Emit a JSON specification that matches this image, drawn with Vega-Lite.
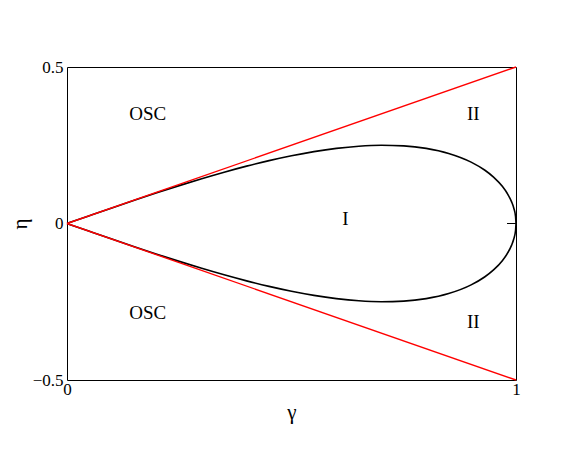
{
  "$schema": "https://vega.github.io/schema/vega-lite/v6.json",
  "width": 449,
  "height": 313,
  "autosize": {"type": "none"},
  "padding": {"left": 67, "top": 67, "right": 65, "bottom": 69},
  "background": "white",
  "config": {
    "view": {"stroke": "black", "strokeWidth": 1},
    "font": "Times New Roman, Liberation Serif, serif",
    "axis": {"grid": false, "domain": false, "labelColor": "black", "titleColor": "black", "titleFontWeight": "normal"}
  },
  "datasets": {
    "curve": [
      {"g": 0, "e": 0, "s": "up"}, {"g": 0.05, "e": 0.02497, "s": "up"}, {"g": 0.1, "e": 0.04975, "s": "up"}, {"g": 0.15, "e": 0.07415, "s": "up"}, {"g": 0.2, "e": 0.09798, "s": "up"}, {"g": 0.25, "e": 0.12103, "s": "up"}, {"g": 0.3, "e": 0.14309, "s": "up"}, {"g": 0.35, "e": 0.16393, "s": "up"}, {"g": 0.4, "e": 0.1833, "s": "up"}, {"g": 0.45, "e": 0.20093, "s": "up"}, {"g": 0.5, "e": 0.21651, "s": "up"}, {"g": 0.55, "e": 0.22967, "s": "up"}, {"g": 0.6, "e": 0.24, "s": "up"}, {"g": 0.65, "e": 0.24698, "s": "up"}, {"g": 0.7, "e": 0.24995, "s": "up"}, {"g": 0.75, "e": 0.24804, "s": "up"}, {"g": 0.8, "e": 0.24, "s": "up"}, {"g": 0.85, "e": 0.22388, "s": "up"}, {"g": 0.9, "e": 0.19615, "s": "up"}, {"g": 0.93, "e": 0.17092, "s": "up"}, {"g": 0.95, "e": 0.14832, "s": "up"}, {"g": 0.97, "e": 0.1179, "s": "up"}, {"g": 0.98, "e": 0.09751, "s": "up"}, {"g": 0.99, "e": 0.06983, "s": "up"}, {"g": 0.995, "e": 0.04969, "s": "up"}, {"g": 0.999, "e": 0.02233, "s": "up"}, {"g": 1, "e": 0, "s": "up"},
      {"g": 0, "e": 0, "s": "lo"}, {"g": 0.05, "e": -0.02497, "s": "lo"}, {"g": 0.1, "e": -0.04975, "s": "lo"}, {"g": 0.15, "e": -0.07415, "s": "lo"}, {"g": 0.2, "e": -0.09798, "s": "lo"}, {"g": 0.25, "e": -0.12103, "s": "lo"}, {"g": 0.3, "e": -0.14309, "s": "lo"}, {"g": 0.35, "e": -0.16393, "s": "lo"}, {"g": 0.4, "e": -0.1833, "s": "lo"}, {"g": 0.45, "e": -0.20093, "s": "lo"}, {"g": 0.5, "e": -0.21651, "s": "lo"}, {"g": 0.55, "e": -0.22967, "s": "lo"}, {"g": 0.6, "e": -0.24, "s": "lo"}, {"g": 0.65, "e": -0.24698, "s": "lo"}, {"g": 0.7, "e": -0.24995, "s": "lo"}, {"g": 0.75, "e": -0.24804, "s": "lo"}, {"g": 0.8, "e": -0.24, "s": "lo"}, {"g": 0.85, "e": -0.22388, "s": "lo"}, {"g": 0.9, "e": -0.19615, "s": "lo"}, {"g": 0.93, "e": -0.17092, "s": "lo"}, {"g": 0.95, "e": -0.14832, "s": "lo"}, {"g": 0.97, "e": -0.1179, "s": "lo"}, {"g": 0.98, "e": -0.09751, "s": "lo"}, {"g": 0.99, "e": -0.06983, "s": "lo"}, {"g": 0.995, "e": -0.04969, "s": "lo"}, {"g": 0.999, "e": -0.02233, "s": "lo"}, {"g": 1, "e": 0, "s": "lo"}
    ],
    "red": [
      {"g": 0, "e": 0, "s": "a"}, {"g": 1, "e": 0.5, "s": "a"},
      {"g": 0, "e": 0, "s": "b"}, {"g": 1, "e": -0.5, "s": "b"}
    ],
    "labels": [
      {"g": 0.18, "e": 0.35, "t": "OSC"},
      {"g": 0.18, "e": -0.285, "t": "OSC"},
      {"g": 0.905, "e": 0.35, "t": "II"},
      {"g": 0.905, "e": -0.315, "t": "II"},
      {"g": 0.62, "e": 0.015, "t": "I"}
    ],
    "rtick": [{"g1": 0.98, "g2": 1, "e": 0}]
  },
  "layer": [
    {
      "data": {"name": "curve"},
      "mark": {"type": "line", "color": "black", "strokeWidth": 1.6, "interpolate": "monotone"},
      "encoding": {
        "x": {"field": "g", "type": "quantitative", "scale": {"domain": [0, 1], "nice": false, "zero": false},
              "axis": {"values": [0, 1], "format": "~g", "title": "γ", "ticks": false, "labelFlush": false, "labelPadding": 1, "titlePadding": 4,
                       "labelFont": "Times New Roman, Liberation Serif, serif", "titleFont": "Times New Roman, Liberation Serif, serif", "labelFontSize": 17, "titleFontSize": 21}},
        "y": {"field": "e", "type": "quantitative", "scale": {"domain": [-0.5, 0.5], "nice": false, "zero": false},
              "axis": {"values": [-0.5, 0, 0.5], "format": "~g", "title": "η", "ticks": false, "labelFlush": false, "labelPadding": 4, "titlePadding": 2,
                       "labelFont": "Times New Roman, Liberation Serif, serif", "titleFont": "Times New Roman, Liberation Serif, serif", "labelFontSize": 17, "titleFontSize": 21}},
        "detail": {"field": "s"}
      }
    },
    {
      "data": {"name": "red"},
      "mark": {"type": "line", "color": "#ff0000", "strokeWidth": 1.4},
      "encoding": {
        "x": {"field": "g", "type": "quantitative"},
        "y": {"field": "e", "type": "quantitative"},
        "detail": {"field": "s"}
      }
    },
    {
      "data": {"name": "rtick"},
      "mark": {"type": "rule", "color": "black", "strokeWidth": 1},
      "encoding": {
        "x": {"field": "g1", "type": "quantitative"},
        "x2": {"field": "g2"},
        "y": {"field": "e", "type": "quantitative"}
      }
    },
    {
      "data": {"name": "labels"},
      "mark": {"type": "text", "fontSize": 19, "font": "Times New Roman, Liberation Serif, serif", "color": "black"},
      "encoding": {
        "x": {"field": "g", "type": "quantitative"},
        "y": {"field": "e", "type": "quantitative"},
        "text": {"field": "t"}
      }
    }
  ]
}
